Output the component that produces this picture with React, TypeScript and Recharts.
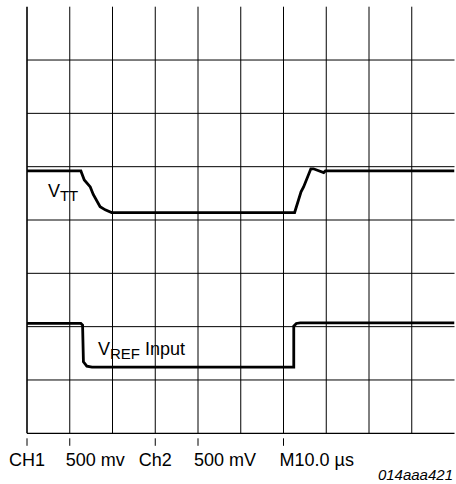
import React from 'react';
import { LineChart, Line, XAxis, YAxis, ReferenceLine, ReferenceDot } from 'recharts';

// Oscilloscope divisions: x 0..10, y 0..8
const vttTrace = [
  { x: 0, y: 4.92 },
  { x: 1.26, y: 4.92 },
  { x: 1.34, y: 4.75 },
  { x: 1.48, y: 4.62 },
  { x: 1.55, y: 4.48 },
  { x: 1.71, y: 4.25 },
  { x: 1.83, y: 4.19 },
  { x: 1.98, y: 4.14 },
  { x: 6.26, y: 4.14 },
  { x: 6.41, y: 4.53 },
  { x: 6.47, y: 4.62 },
  { x: 6.64, y: 4.96 },
  { x: 6.7, y: 4.96 },
  { x: 6.94, y: 4.89 },
  { x: 6.98, y: 4.92 },
  { x: 10, y: 4.92 },
];

const vrefTrace = [
  { x: 0, y: 2.06 },
  { x: 1.26, y: 2.06 },
  { x: 1.3, y: 2.03 },
  { x: 1.32, y: 1.34 },
  { x: 1.4, y: 1.26 },
  { x: 1.52, y: 1.24 },
  { x: 6.24, y: 1.24 },
  { x: 6.24, y: 2.01 },
  { x: 6.3, y: 2.06 },
  { x: 6.39, y: 2.07 },
  { x: 10, y: 2.07 },
];

const gridXs = [1, 2, 3, 4, 5, 6, 7, 8, 9];
const gridYs = [1, 2, 3, 4, 5, 6, 7];
const tickValues = [0, 1, 3, 4, 6];
const tickLabels = ['CH1', '500 mv', 'Ch2', '500 mV', 'M10.0 µs'];
const traceLabels = [
  { x: 0.49, y: 4.43, main: 'V', sub: 'TT', rest: '' },
  { x: 1.66, y: 1.47, main: 'V', sub: 'REF', rest: ' Input' },
];
const figureId = '014aaa421';

const FONT = '"Liberation Sans", Arial, sans-serif';

function AxisTick(props: any) {
  const { x, y, payload } = props;
  const idx = tickValues.indexOf(payload.value);
  const label = tickLabels[idx];
  const centered = idx === 0 || idx === 2;
  return (
    <g>
      <line x1={x} x2={x} y1={y + 5} y2={y + 12.5} stroke="#000" strokeWidth={1} />
      <text
        x={centered ? x : x - 4}
        y={y + 33}
        textAnchor={centered ? 'middle' : 'start'}
        fontSize={18}
        fontFamily={FONT}
        fill="#000"
      >
        {label}
      </text>
    </g>
  );
}

function TraceLabel(props: any) {
  const { cx, cy, item } = props;
  return (
    <text x={cx} y={cy} fontFamily={FONT} fontSize={18} fill="#000">
      <tspan>{item.main}</tspan>
      <tspan fontSize={15} dy={4}>{item.sub}</tspan>
      {item.rest ? <tspan dy={-4}>{item.rest}</tspan> : null}
    </text>
  );
}

export default function App() {
  return (
    <div style={{ position: 'absolute', left: 0, top: 0, width: 456, height: 484, background: '#fff' }}>
      <LineChart
        width={456}
        height={484}
        margin={{ top: 6.7, right: 1.5, bottom: 0, left: 27 }}
      >
        <XAxis
          type="number"
          dataKey="x"
          domain={[0, 10]}
          ticks={tickValues}
          interval={0}
          height={50.7}
          tickSize={0}
          tickMargin={0}
          tickLine={false}
          axisLine={{ stroke: '#000', strokeWidth: 1.2 }}
          tick={<AxisTick />}
          allowDataOverflow
        />
        <YAxis type="number" domain={[0, 8]} hide width={0} allowDataOverflow />
        {gridXs.map((v) => (
          <ReferenceLine key={'gx' + v} x={v} stroke="#000" strokeWidth={1} />
        ))}
        {gridYs.map((v) => (
          <ReferenceLine key={'gy' + v} y={v} stroke="#000" strokeWidth={1} />
        ))}
        <ReferenceLine x={0} stroke="#000" strokeWidth={1.6} />
        <Line
          data={vttTrace}
          dataKey="y"
          type="linear"
          stroke="#000"
          strokeWidth={2.8}
          dot={false}
          isAnimationActive={false}
        />
        <Line
          data={vrefTrace}
          dataKey="y"
          type="linear"
          stroke="#000"
          strokeWidth={2.8}
          dot={false}
          isAnimationActive={false}
        />
        {traceLabels.map((t) => (
          <ReferenceDot
            key={t.sub}
            x={t.x}
            y={t.y}
            r={0}
            shape={(p: any) => <TraceLabel {...p} item={t} />}
          />
        ))}
      </LineChart>
      <div
        style={{
          position: 'absolute',
          right: 3,
          top: 466,
          fontFamily: FONT,
          fontStyle: 'italic',
          fontSize: 15,
          lineHeight: '18px',
          color: '#000',
        }}
      >
        {figureId}
      </div>
    </div>
  );
}
